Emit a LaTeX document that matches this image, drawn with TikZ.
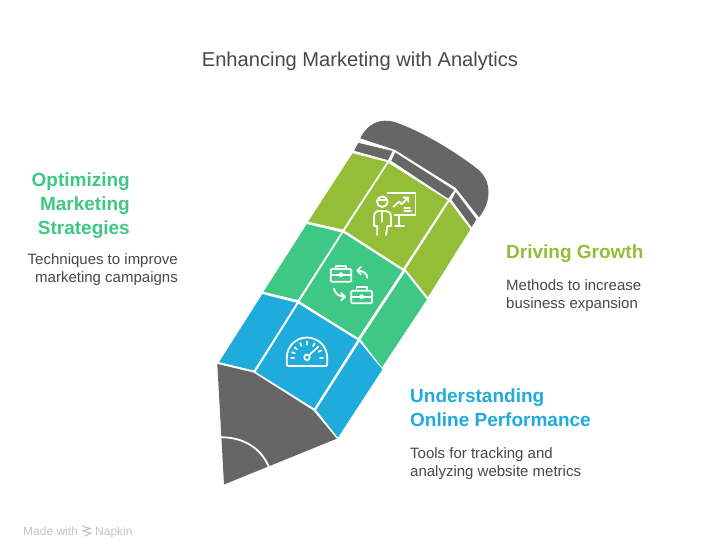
\documentclass[tikz,border=0pt]{standalone}
\usepackage{fontspec}
\setmainfont{Liberation Sans}
\definecolor{graybody}{HTML}{666666}
\definecolor{olive}{HTML}{94BD38}
\definecolor{teal}{HTML}{3EC785}
\definecolor{sky}{HTML}{1FABDB}
\definecolor{inktext}{HTML}{484848}
\definecolor{foot}{HTML}{C4C4C4}
\tikzset{
  titletext/.style={inner sep=0pt,text=inktext,font=\fontsize{20.1}{24}\selectfont},
  headtext/.style={inner sep=0pt,font=\fontsize{19}{24}\selectfont\bfseries},
  desctext/.style={inner sep=0pt,text=inktext,font=\fontsize{15}{18}\selectfont},
  foottext/.style={inner sep=0pt,text=foot,font=\fontsize{12}{13}\selectfont},
  icon/.style={draw=white,line width=1.8pt,line cap=round,line join=round},
  panel/.style={fill=#1,draw=white,line width=0.8pt,line join=round}
}
\begin{document}
\begin{tikzpicture}[x=1pt,y=-1pt]
\useasboundingbox (0,0) rectangle (720,558);
\fill[white] (0,0) rectangle (720,558);
% eraser cap
\fill[graybody] (360.3,138.3) .. controls (367,124) and (380,117) .. (396.7,122.7)
  .. controls (420,131) and (450,148) .. (476.7,168.3)
  .. controls (491,179) and (493,200) .. (479,217.3)
  -- (455.7,187.8) -- (395,149.8) -- cycle;
% ferrule
\path[panel=graybody] (358,142.3) -- (393.3,150.7) -- (388.3,160.7) -- (353.3,151) -- cycle;
\path[panel=graybody] (395,151.7) -- (455,190) -- (448.3,199.3) -- (390.7,161) -- cycle;
\path[panel=graybody] (455.7,191) -- (477,219.3) -- (471.7,228) -- (451,200) -- cycle;
% olive
\path[panel=olive] (352.3,152.7) -- (387.7,161.7) -- (343,230) -- (307.3,222) -- cycle;
\path[panel=olive] (388.3,162.3) -- (448.3,200) -- (403.3,269) -- (344,230.7) -- cycle;
\path[panel=olive] (449.3,200.7) -- (471,229.3) -- (428,298) -- (405,269.3) -- cycle;
% teal
\path[panel=teal] (306.5,223.5) -- (342,232) -- (298,300.5) -- (262.7,292) -- cycle;
\path[panel=teal] (343,232) -- (403,270.5) -- (358.3,338.5) -- (299,301.5) -- cycle;
\path[panel=teal] (405,271) -- (427.5,299.5) -- (382,368.3) -- (360,339.5) -- cycle;
% blue
\path[panel=sky] (262,293.5) -- (297.3,302.5) -- (254,371) -- (218.3,362.3) -- cycle;
\path[panel=sky] (298.3,303) -- (358,340) -- (314.3,409) -- (255,372) -- cycle;
\path[panel=sky] (359.5,341) -- (383,369.5) -- (338,438.5) -- (315.5,410) -- cycle;
% tip
\fill[graybody] (217.3,364) -- (253.3,372.5) -- (313.3,410.5) -- (336.7,438.7) -- (224,484.5) -- cycle;
\draw[draw=white,line width=1.8pt] (221,437.3) .. controls (245,437) and (262,450) .. (268.7,466.7);
% presenter icon
\draw[icon] (387.5,193.3) -- (415.5,193.3) -- (415.5,215.3) -- (394.5,215.3);
\draw[icon] (399.3,215.3) -- (399.3,226) (395,226) -- (404,226);
\draw[icon] (393.3,206.7) -- (399.3,201.7) -- (401.7,204.3) -- (407.7,197.9)
  (403.3,197.5) -- (408.2,197.5) -- (408.2,201.7);
\draw[icon] (404.3,208.3) -- (410,208.3) (404.3,211) -- (411,211);
\draw[icon] (382.3,201.7) circle[radius=5.3] (377.2,200) -- (387.4,200);
\draw[icon] (377.3,235) -- (377.3,226) -- (374,226) -- (374,217.3) .. controls (374,213) and (376,211) .. (379.3,211)
  -- (386,211) .. controls (389,211) and (391,213) .. (391,217.3) -- (391,226) -- (387.3,226) -- (386,235);
\draw[icon] (382.3,212.7) -- (382.3,221.7);
% briefcases icon
\draw[icon,rounded corners=1.2pt] (330.7,269) rectangle (351.3,281.7);
\draw[icon] (336,269) -- (336,265.7) -- (345.7,265.7) -- (345.7,269);
\draw[icon] (330.7,274.8) -- (339,274.8) (343,274.8) -- (351.3,274.8);
\draw[icon] (341,274.8) circle[radius=1.8];
\draw[icon,rounded corners=1.2pt] (351.3,290.7) rectangle (372,303.3);
\draw[icon] (356.5,290.7) -- (356.5,287) -- (366.7,287) -- (366.7,290.7);
\draw[icon] (351.3,296.7) -- (359.7,296.7) (363.7,296.7) -- (372,296.7);
\draw[icon] (361.7,296.7) circle[radius=1.8];
\draw[icon] (367.3,277.7) .. controls (367,273) and (363,270.7) .. (357.5,270.7)
  (361,266.9) -- (357.3,270.7) -- (361,274.3);
\draw[icon] (334,288.7) .. controls (335.5,294) and (339,296.7) .. (345,296.7)
  (341,292.9) -- (345,296.7) -- (341,300.6);
% gauge icon
\draw[icon] (286.8,357.7) arc[start angle=180,end angle=360,radius=20.2]
  -- (327.2,364.5) -- (326.2,366) -- (287.8,366) -- (286.8,364.5) -- cycle;
\draw[icon] (307,357.3) circle[radius=2.8];
\draw[icon] (309,355.2) -- (318.3,346.7);
\foreach \a in {0,27,62,90,115,140,160,180}
  \draw[icon] ({307+13*cos(\a)},{357.7-13*sin(\a)}) -- ({307+16*cos(\a)},{357.7-16*sin(\a)});
% texts
\node[titletext,anchor=base] (title) at (360,66) {Enhancing Marketing with Analytics};
\node[headtext,text=teal,anchor=north east,align=right] (h1) at (130,173) {Optimizing\\Marketing\\Strategies};
\node[desctext,anchor=north east,align=right] (d1) at (178,253) {Techniques to improve\\marketing campaigns};
\node[headtext,text=olive,anchor=north west,align=left] (h2) at (506,245) {Driving Growth};
\node[desctext,anchor=north west,align=left] (d2) at (506,279) {Methods to increase\\business expansion};
\node[headtext,text=sky,anchor=north west,align=left] (h3) at (410,389) {Understanding\\Online Performance};
\node[desctext,anchor=north west,align=left] (d3) at (410,447) {Tools for tracking and\\analyzing website metrics};
\node[foottext,anchor=base west] (made) at (23,535) {Made with};
\node[foottext,anchor=base west] (napkin) at (95,535) {Napkin};
\draw[foot,line width=1.1pt] (82,526) -- (90,528.5) -- (83,531) -- (91,533) -- (85,536);
\end{tikzpicture}
\end{document}
